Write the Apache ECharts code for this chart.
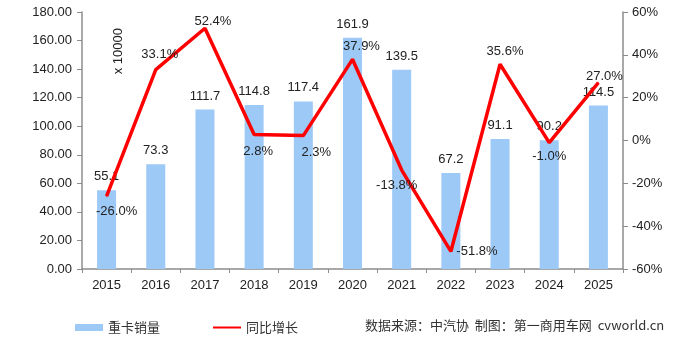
<!DOCTYPE html>
<html><head><meta charset="utf-8">
<script src="https://cdn.jsdelivr.net/npm/echarts@6/dist/echarts.min.js"></script>
<style>html,body{margin:0;padding:0;background:#fff}#c{width:700px;height:340px}</style>
</head><body><div id="c"></div>
<script>
const years = ['2015','2016','2017','2018','2019','2020','2021','2022','2023','2024','2025'];
const sales = [55.1,73.3,111.7,114.8,117.4,161.9,139.5,67.2,91.1,90.2,114.5];
const growth = [-26.0,33.1,52.4,2.8,2.3,37.9,-13.8,-51.8,35.6,-1.0,27.0];
const leftTicks = [0,20,40,60,80,100,120,140,160,180];
const rightTicks = [-60,-40,-20,0,20,40,60];

// label placement (style only)
const growthLabelStyle = {
  '2015':{position:'bottom', offset:[10,1]},
  '2016':{position:'top', offset:[4,-1]},
  '2017':{position:'top', offset:[8,7]},
  '2018':{position:'bottom', offset:[4,3]},
  '2019':{position:'bottom', offset:[13,3]},
  '2020':{position:'top', offset:[9,1]},
  '2021':{position:'bottom', offset:[-5,1]},
  '2022':{position:'right', offset:[-2,0]},
  '2023':{position:'top', offset:[5,1]},
  '2024':{position:'bottom', offset:[0,0]},
  '2025':{position:'top', offset:[6,8]}
};
const FONT = 'Liberation Sans, Arial, sans-serif';
const chart = echarts.init(document.getElementById('c'));
chart.setOption({
  animation:false,
  textStyle:{fontFamily:FONT},
  grid:{left:82,right:77,top:12,bottom:71},
  legend:{
    left:70, top:316, itemWidth:28, itemHeight:7, itemGap:53,
    textStyle:{fontFamily:'Noto Sans CJK SC', fontSize:13, color:'#333'},
    data:[{name:'重卡销量', icon:'rect'},
          {name:'同比增长', icon:'path://M0,0L0.01,0M0,2.5L28,2.5L28,4.5L0,4.5ZM0,7L0.01,7', itemStyle:{color:'#FF0000'}}]
  },
  graphic:[
    {type:'text', left:112, top:28, rotation:Math.PI/2,
     style:{text:'x 10000', font:'13px '+FONT, fill:'#222'}},
    {type:'text', left:365, top:319,
     style:{text:'数据来源：中汽协  制图：第一商用车网  cvworld.cn', font:'13px "Noto Sans CJK SC"', fill:'#333'}}
  ],
  xAxis:{type:'category', data:years,
    axisLine:{lineStyle:{color:'#8c8c8c',width:1.5}},
    axisTick:{show:true, length:4, lineStyle:{color:'#8c8c8c'}},
    axisLabel:{fontSize:13, color:'#222', margin:10, fontFamily:FONT}},
  yAxis:[
    {type:'value', min:0, max:180, interval:20,
     axisLine:{show:true,lineStyle:{color:'#8c8c8c',width:1.5}},
     axisTick:{show:true,length:5,lineStyle:{color:'#8c8c8c'}},
     splitLine:{show:false},
     axisLabel:{fontSize:13,color:'#222',margin:10,fontFamily:FONT, formatter:v=>v.toFixed(2)}},
    {type:'value', min:-60, max:60, interval:20, position:'right',
     axisLine:{show:true,lineStyle:{color:'#8c8c8c',width:1.5}},
     axisTick:{show:true,length:5,lineStyle:{color:'#8c8c8c'}},
     splitLine:{show:false},
     axisLabel:{fontSize:13,color:'#222',margin:9,fontFamily:FONT, formatter:v=>v+'%'}}
  ],
  series:[
    {name:'重卡销量', type:'bar', data:sales, barWidth:19, yAxisIndex:0,
     itemStyle:{color:'#9CC9F6'},
     label:{show:true, position:'top', distance:7, fontSize:13, color:'#222', fontFamily:FONT, formatter:p=>p.value.toFixed(1)}},
    {name:'同比增长', type:'line', yAxisIndex:1, symbol:'circle', symbolSize:1, showSymbol:true,
     lineStyle:{color:'#FF0000', width:3.5}, itemStyle:{color:'#FF0000'},
     data: growth.map((v,i)=>({value:v, label:growthLabelStyle[years[i]]})),
     label:{show:true, distance:7, fontSize:13, color:'#222', fontFamily:FONT, formatter:p=>p.value.toFixed(1)+'%'}}
  ]
});
</script></body></html>
